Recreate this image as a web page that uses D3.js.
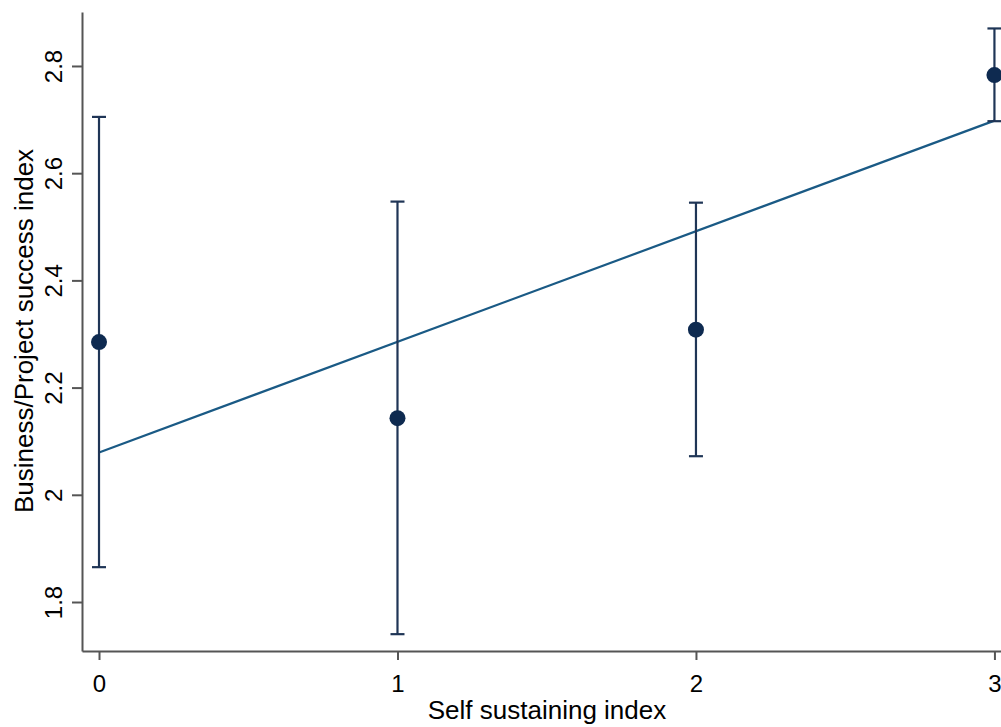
<!DOCTYPE html>
<html>
<head>
<meta charset="utf-8">
<script src="https://cdn.jsdelivr.net/npm/d3@7"></script>
<style>
  body { margin: 0; background: #fff; }
  svg { display: block; font-family: "Liberation Sans", Arial, sans-serif; }
</style>
</head>
<body>
<svg id="chart" width="1001" height="727"></svg>
<script>
// data
var xValues = [0, 1, 2, 3];
var means = [2.285, 2.143, 2.308, 2.783];
var lowerCI = [1.865, 1.740, 2.072, 2.697];
var upperCI = [2.705, 2.547, 2.545, 2.870];
var fitX = [0, 3];
var fitY = [2.079, 2.698];
var xTicks = [0, 1, 2, 3];
var yTicks = [1.8, 2, 2.2, 2.4, 2.6, 2.8];

var svg = d3.select("#chart");

var xScale = d3.scaleLinear()
    .domain([-0.057, 3.022])
    .range([82, 1001]);

var yScale = d3.scaleLinear()
    .domain([1.7086, 2.9007])
    .range([651, 12]);

var axisColor = "#555";

// x axis
var xAxis = d3.axisBottom(xScale)
    .tickValues(xTicks)
    .tickSizeOuter(0)
    .tickSizeInner(9)
    .tickPadding(0)
    .tickFormat(d3.format("d"));

var gx = svg.append("g")
    .attr("transform", "translate(0, 651)")
    .call(xAxis);
gx.select(".domain").attr("stroke", axisColor).attr("stroke-width", 2);
gx.selectAll(".tick line").attr("stroke", axisColor).attr("stroke-width", 2);
gx.selectAll(".tick text")
    .attr("font-size", 24)
    .attr("fill", "#000")
    .attr("dy", null)
    .attr("y", 41);

// y axis
var yAxis = d3.axisLeft(yScale)
    .tickValues(yTicks)
    .tickSizeOuter(0)
    .tickSizeInner(10)
    .tickFormat(d => d3.format("")(d));

var gy = svg.append("g")
    .attr("transform", "translate(82, 0)")
    .call(yAxis);
gy.select(".domain").attr("stroke", axisColor).attr("stroke-width", 2);
gy.selectAll(".tick line").attr("stroke", axisColor).attr("stroke-width", 2);
gy.selectAll(".tick text")
    .attr("font-size", 24)
    .attr("fill", "#000")
    .attr("x", null)
    .attr("dy", null)
    .attr("text-anchor", "middle")
    .attr("transform", "translate(-20, 0) rotate(-90)");

// axis titles
svg.append("text")
    .attr("x", 547)
    .attr("y", 719)
    .attr("text-anchor", "middle")
    .attr("font-size", 26)
    .text("Self sustaining index");

svg.append("text")
    .attr("transform", "translate(33, 331) rotate(-90)")
    .attr("text-anchor", "middle")
    .attr("font-size", 26)
    .text("Business/Project success index");

// fitted line
var line = d3.line()
    .x(d => xScale(d[0]))
    .y(d => yScale(d[1]));

svg.append("path")
    .datum(d3.zip(fitX, fitY))
    .attr("d", line)
    .attr("fill", "none")
    .attr("stroke", "#1a5a85")
    .attr("stroke-width", 2.2);

// error bars
var barColor = "#1f3556";
var capHalf = 7;
var bars = svg.append("g");
xValues.forEach(function(x, i) {
    bars.append("line")
        .attr("x1", xScale(x)).attr("x2", xScale(x))
        .attr("y1", yScale(lowerCI[i])).attr("y2", yScale(upperCI[i]))
        .attr("stroke", barColor).attr("stroke-width", 2.2);
    [lowerCI[i], upperCI[i]].forEach(function(v) {
        bars.append("line")
            .attr("x1", xScale(x) - capHalf).attr("x2", xScale(x) + capHalf)
            .attr("y1", yScale(v)).attr("y2", yScale(v))
            .attr("stroke", barColor).attr("stroke-width", 2.2);
    });
});

// mean points
svg.append("g").selectAll("circle")
    .data(xValues)
    .enter()
    .append("circle")
    .attr("cx", d => xScale(d))
    .attr("cy", (d, i) => yScale(means[i]))
    .attr("r", 8)
    .attr("fill", "#0e2a50");
</script>
</body>
</html>
